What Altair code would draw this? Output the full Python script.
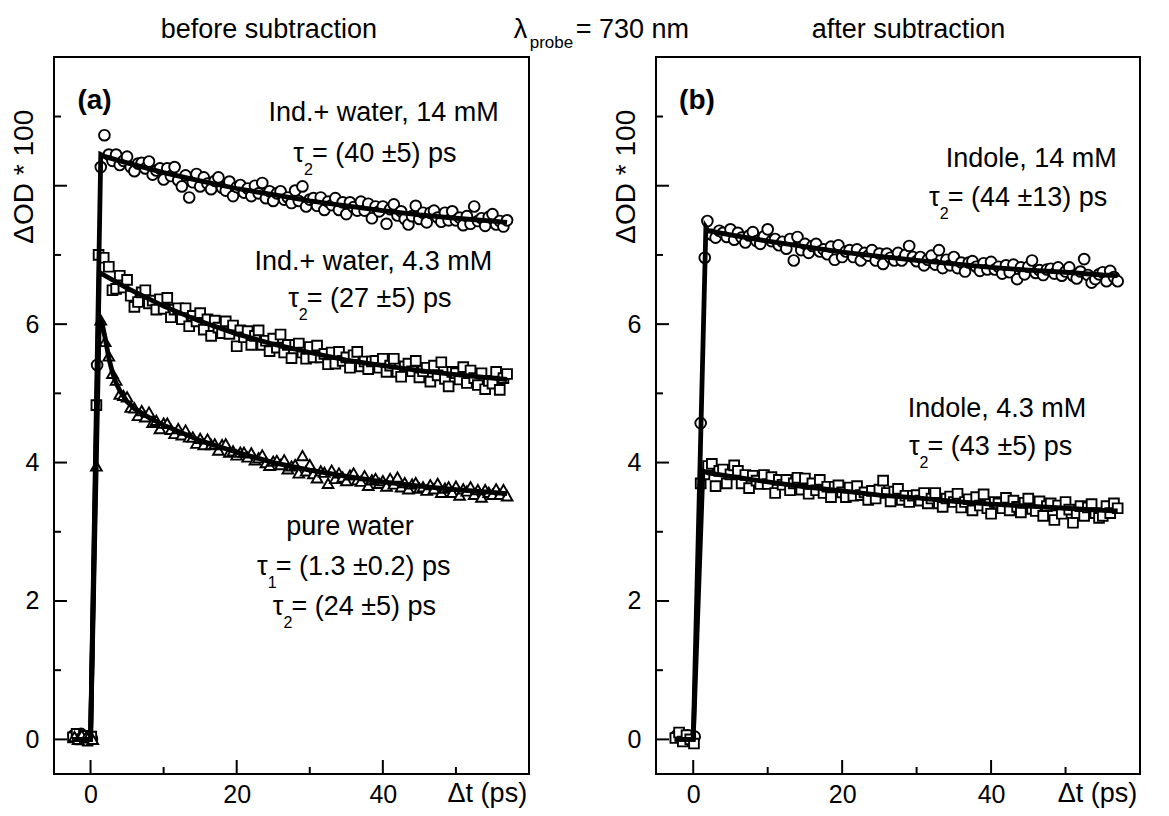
import altair as alt
import pandas as pd

# ---------------- data ----------------
T = [2.5, 3, 3.5, 4, 4.5, 5, 5.5, 6, 6.5, 7, 7.5, 8, 8.5, 9, 9.5, 10, 10.5, 11, 11.5, 12,
     12.5, 13, 13.5, 14, 14.5, 15, 15.5, 16, 16.5, 17, 17.5, 18, 18.5, 19, 19.5, 20, 20.5, 21,
     21.5, 22, 22.5, 23, 23.5, 24, 24.5, 25, 25.5, 26, 26.5, 27, 27.5, 28, 28.5, 29, 29.5, 30,
     30.5, 31, 31.5, 32, 32.5, 33, 33.5, 34, 34.5, 35, 35.5, 36, 36.5, 37, 37.5, 38, 38.5, 39,
     39.5, 40, 40.5, 41, 41.5, 42, 42.5, 43, 43.5, 44, 44.5, 45, 45.5, 46, 46.5, 47, 47.5, 48,
     48.5, 49, 49.5, 50, 50.5, 51, 51.5, 52, 52.5, 53, 53.5, 54, 54.5, 55, 55.5, 56, 56.5, 57]

# panel (a) circles: Ind.+ water, 14 mM
A1_early_t = [-2.3, -1.8, -1.3, -0.8, -0.3, 0.2, 0.9, 1.4, 1.9]
A1_early_v = [0.06, 0.02, 0.08, 0.0, 0.03, 0.01, 5.41, 8.27, 8.73]
A1 = [8.45, 8.36, 8.45, 8.30, 8.36, 8.42, 8.27, 8.21, 8.32, 8.33,
      8.25, 8.35, 8.16, 8.22, 8.25, 8.09, 8.25, 8.14, 8.27, 8.08,
      7.99, 8.15, 7.83, 8.05, 8.17, 7.99, 8.12, 8.03, 7.95, 8.07,
      8.12, 7.97, 7.93, 8.06, 7.85, 7.98, 8.01, 7.90, 7.96, 7.85,
      8.00, 7.89, 8.04, 7.82, 7.92, 7.78, 7.89, 7.92, 7.80, 7.83,
      7.75, 7.93, 7.78, 7.99, 7.70, 7.80, 7.82, 7.71, 7.83, 7.65,
      7.77, 7.72, 7.82, 7.65, 7.76, 7.59, 7.76, 7.69, 7.64, 7.77,
      7.64, 7.74, 7.53, 7.70, 7.63, 7.70, 7.45, 7.66, 7.73, 7.57,
      7.63, 7.52, 7.44, 7.56, 7.71, 7.52, 7.61, 7.47, 7.61, 7.64,
      7.54, 7.48, 7.61, 7.50, 7.63, 7.50, 7.54, 7.43, 7.56, 7.45,
      7.70, 7.49, 7.53, 7.42, 7.55, 7.59, 7.44, 7.49, 7.41, 7.50]

# panel (a) squares: Ind.+ water, 4.3 mM
A2_early_t = [-2.4, -1.9, -1.4, -0.9, -0.4, 0.1, 0.8, 1.1, 1.8]
A2_early_v = [0.03, 0.08, 0.0, 0.05, -0.02, 0.04, 4.83, 7.0, 6.96]
A2 = [6.83, 6.49, 6.51, 6.70, 6.53, 6.64, 6.41, 6.25, 6.32, 6.46,
      6.49, 6.30, 6.34, 6.21, 6.36, 6.22, 6.38, 6.10, 6.21, 6.23,
      6.07, 6.23, 5.97, 6.12, 6.04, 6.16, 5.92, 6.07, 5.83, 6.05,
      5.95, 5.87, 6.04, 5.86, 5.98, 5.68, 5.91, 5.81, 5.90, 5.70,
      5.83, 5.91, 5.70, 5.76, 5.61, 5.79, 5.66, 5.85, 5.59, 5.70,
      5.51, 5.70, 5.72, 5.59, 5.50, 5.67, 5.52, 5.69, 5.52, 5.57,
      5.42, 5.59, 5.43, 5.60, 5.47, 5.52, 5.37, 5.55, 5.60, 5.39,
      5.46, 5.35, 5.46, 5.47, 5.37, 5.50, 5.31, 5.40, 5.50, 5.31,
      5.24, 5.39, 5.43, 5.32, 5.47, 5.23, 5.32, 5.37, 5.17, 5.40,
      5.26, 5.45, 5.21, 5.10, 5.31, 5.29, 5.20, 5.38, 5.15, 5.33,
      5.22, 5.12, 5.29, 5.06, 5.18, 5.14, 5.31, 5.05, 5.22, 5.28]

# panel (a) triangles: pure water
A3_early_t = [-2.2, -1.7, -1.2, -0.7, -0.2, 0.3, 0.8, 1.4, 2.0]
A3_early_v = [0.04, 0.0, 0.06, 0.02, 0.05, 0.0, 3.95, 6.06, 5.75]
A3 = [5.54, 5.29, 5.19, 4.99, 4.97, 4.95, 4.80, 4.79, 4.68, 4.75,
      4.66, 4.73, 4.58, 4.61, 4.49, 4.57, 4.57, 4.48, 4.42, 4.49,
      4.40, 4.47, 4.37, 4.37, 4.28, 4.35, 4.26, 4.34, 4.26, 4.27,
      4.18, 4.26, 4.27, 4.15, 4.17, 4.11, 4.15, 4.15, 4.08, 4.14,
      4.04, 4.07, 4.11, 4.00, 3.96, 4.02, 4.03, 3.97, 4.04, 3.91,
      3.95, 3.97, 3.85, 4.10, 3.88, 3.97, 3.84, 3.78, 3.88, 3.86,
      3.70, 3.89, 3.77, 3.85, 3.79, 3.74, 3.82, 3.85, 3.75, 3.73,
      3.81, 3.67, 3.75, 3.77, 3.70, 3.74, 3.66, 3.77, 3.69, 3.79,
      3.65, 3.71, 3.62, 3.69, 3.71, 3.63, 3.65, 3.60, 3.68, 3.62,
      3.70, 3.57, 3.63, 3.65, 3.57, 3.66, 3.53, 3.62, 3.59, 3.65,
      3.54, 3.61, 3.50, 3.61, 3.57, 3.54, 3.62, 3.54, 3.61, 3.52]

# panel (b) circles: Indole, 14 mM
B1_early_t = [-2.3, -1.8, -1.3, -0.8, -0.3, 0.2, 1.0, 1.55, 1.9]
B1_early_v = [0.05, 0.08, 0.02, 0.06, 0.0, 0.04, 4.57, 6.96, 7.49]
B1 = [7.29, 7.25, 7.35, 7.32, 7.26, 7.37, 7.22, 7.32, 7.25, 7.18,
      7.28, 7.33, 7.20, 7.16, 7.27, 7.37, 7.20, 7.23, 7.14, 7.19,
      7.09, 7.23, 6.92, 7.26, 7.07, 7.16, 7.03, 7.13, 7.16, 7.05,
      7.08, 7.01, 7.12, 6.93, 7.14, 6.97, 7.05, 7.07, 6.97, 7.08,
      6.92, 7.03, 6.99, 7.07, 6.92, 7.02, 6.87, 7.02, 6.96, 6.92,
      7.03, 6.92, 7.00, 7.13, 6.97, 6.91, 6.97, 6.85, 6.93, 6.99,
      6.86, 7.07, 6.81, 6.93, 6.85, 6.97, 6.81, 6.89, 6.76, 6.89,
      6.91, 6.83, 6.77, 6.88, 6.79, 6.90, 6.79, 6.83, 6.73, 6.85,
      6.75, 6.86, 6.65, 6.82, 6.72, 6.83, 6.92, 6.74, 6.78, 6.71,
      6.79, 6.80, 6.73, 6.82, 6.70, 6.76, 6.82, 6.70, 6.66, 6.76,
      6.94, 6.71, 6.60, 6.65, 6.72, 6.75, 6.62, 6.77, 6.68, 6.62]

# panel (b) squares: Indole, 4.3 mM
B2_early_t = [-2.4, -1.9, -1.4, -0.9, -0.4, 0.1, 1.0, 1.5, 2.0]
B2_early_v = [0.02, 0.1, -0.03, 0.06, 0.0, -0.06, 3.7, 3.83, 3.95]
B2 = [3.98, 3.66, 3.88, 3.90, 3.70, 3.83, 3.96, 3.88, 3.70, 3.82,
      3.63, 3.81, 3.74, 3.69, 3.82, 3.69, 3.79, 3.56, 3.75, 3.68,
      3.75, 3.60, 3.70, 3.78, 3.61, 3.77, 3.55, 3.70, 3.60, 3.75,
      3.56, 3.65, 3.50, 3.65, 3.67, 3.57, 3.50, 3.64, 3.52, 3.66,
      3.53, 3.57, 3.46, 3.59, 3.48, 3.61, 3.74, 3.56, 3.44, 3.58,
      3.62, 3.46, 3.52, 3.43, 3.52, 3.53, 3.45, 3.56, 3.41, 3.48,
      3.56, 3.41, 3.36, 3.48, 3.51, 3.43, 3.55, 3.35, 3.43, 3.47,
      3.31, 3.50, 3.38, 3.54, 3.34, 3.26, 3.43, 3.41, 3.34, 3.49,
      3.31, 3.45, 3.36, 3.28, 3.42, 3.48, 3.33, 3.30, 3.44, 3.23,
      3.37, 3.41, 3.17, 3.38, 3.26, 3.43, 3.32, 3.13, 3.27, 3.37,
      3.23, 3.35, 3.40, 3.27, 3.20, 3.23, 3.37, 3.27, 3.41, 3.34]

# fitted curves
A1_fit_t = [-2.5, 0, 1.4, 2, 5, 10, 15, 20, 25, 30, 35, 40, 45, 50, 55, 57]
A1_fit_v = [0, 0, 8.45, 8.42, 8.33, 8.19, 8.07, 7.96, 7.87, 7.78, 7.71, 7.64, 7.58, 7.53, 7.49, 7.47]
A2_fit_t = [-2.5, 0, 1.2, 2, 5, 10, 15, 20, 25, 30, 35, 40, 45, 50, 55, 57]
A2_fit_v = [0, 0, 6.75, 6.70, 6.52, 6.26, 6.04, 5.86, 5.71, 5.59, 5.48, 5.40, 5.33, 5.27, 5.22, 5.20]
A3_fit_t = [-2.5, 0, 1.2, 1.6, 2, 2.5, 3, 3.5, 4, 5, 6, 8, 10, 15, 20, 25, 30, 35, 40, 45, 50, 55, 57]
A3_fit_v = [0, 0, 6.1, 6.0, 5.80, 5.51, 5.30, 5.15, 5.04, 4.88, 4.78, 4.65, 4.54, 4.32, 4.15, 4.00,
            3.89, 3.80, 3.72, 3.66, 3.61, 3.57, 3.55]
B1_fit_t = [-2.5, 0, 1.7, 2, 5, 10, 15, 20, 25, 30, 35, 40, 45, 50, 55, 57]
B1_fit_v = [0, 0, 7.40, 7.35, 7.29, 7.20, 7.12, 7.04, 6.98, 6.92, 6.87, 6.82, 6.78, 6.75, 6.71, 6.70]
B2_fit_t = [-2.5, 0, 1.3, 2, 5, 10, 15, 20, 25, 30, 35, 40, 45, 50, 55, 57]
B2_fit_v = [0, 0, 3.88, 3.85, 3.80, 3.72, 3.65, 3.59, 3.53, 3.49, 3.44, 3.40, 3.37, 3.34, 3.31, 3.30]

# axis tick values / labels
X_LABELS = [0, 20, 40]
Y_LABELS = [0, 2, 4, 6]
X_MAJOR = [0, 20, 40]
X_MINOR = [10, 30, 50]
Y_MAJOR = [0, 2, 4, 6, 8]
Y_MINOR = [1, 3, 5, 7, 9]

# ---------------- layout / style ----------------
FONT = "Liberation Sans"
XDOM = [-5, 60]
YDOM = [-0.5, 9.86]
H = 717
WA, WB = 475, 484

# annotations (data coordinates)
A_CENTER = [("Ind.+ water, 14 mM", 40.1, 8.93),
            ("Ind.+ water, 4.3 mM", 38.7, 6.78),
            ("pure water", 35.5, 2.95)]
A_TAU = [("τ", "2", "= (40 ±5) ps", 29.2, 8.35),
         ("τ", "2", "= (27 ±5) ps", 28.5, 6.25),
         ("τ", "1", "= (1.3 ±0.2) ps", 24.25, 2.37),
         ("τ", "2", "= (24 ±5) ps", 26.4, 1.80)]
B_CENTER = [("Indole, 14 mM", 45.4, 8.27),
            ("Indole, 4.3 mM", 40.8, 4.66)]
B_TAU = [("τ", "2", "= (44 ±13) ps", 33.1, 7.70),
         ("τ", "2", "= (43 ±5) ps", 30.4, 4.11)]


def panel(width, points, fits, centers, taus, label, title_rows, extra_left, extra_sub):
    xs = alt.Scale(domain=XDOM, nice=False, zero=False)
    ys = alt.Scale(domain=YDOM, nice=False, zero=False)
    xa = alt.Axis(values=X_LABELS, ticks=False, tickSize=0, domain=False, grid=False,
                  labelFontSize=25, labelFont=FONT, labelColor="black", labelPadding=8,
                  title=None, labelFlush=False)
    ya = alt.Axis(values=Y_LABELS, ticks=False, tickSize=0, domain=False, grid=False,
                  labelFontSize=25, labelFont=FONT, labelColor="black", labelPadding=15,
                  title=None)
    X = alt.X("t:Q", scale=xs, axis=xa)
    Y = alt.Y("v:Q", scale=ys, axis=ya)

    layers = []
    for (et, ev, vals), shape, size in points:
        df = pd.DataFrame({"t": et + T, "v": ev + vals})
        layers.append(alt.Chart(df).mark_point(shape=shape, size=size, filled=True, fill="white",
                                                stroke="black", strokeWidth=1.9, opacity=1)
                      .encode(x=X, y=Y))
    for ft, fv in fits:
        df = pd.DataFrame({"t": ft, "v": fv})
        layers.append(alt.Chart(df).mark_line(color="black", strokeWidth=4.8).encode(x=X, y=Y))

    # inward ticks
    def xticks(vals, length):
        return alt.Chart(pd.DataFrame({"t": vals})).mark_rule(color="black", strokeWidth=2).encode(
            x=X, y=alt.value(H), y2=alt.value(H - length))

    def yticks(vals, length):
        return alt.Chart(pd.DataFrame({"v": vals})).mark_rule(color="black", strokeWidth=2).encode(
            y=Y, x=alt.value(0), x2=alt.value(length))

    layers += [xticks(X_MAJOR, 14), xticks(X_MINOR, 7), yticks(Y_MAJOR, 13), yticks(Y_MINOR, 7)]

    def text(rows, **mk):
        df = pd.DataFrame(rows, columns=["label", "t", "v"])
        props = dict(font=FONT, color="black", baseline="alphabetic", fontSize=27)
        props.update(mk)
        return alt.Chart(df).mark_text(**props).encode(x=X, y=Y, text="label:N")

    layers.append(text(centers, align="center"))
    layers.append(text([(a, t, v) for a, s, r, t, v in taus], align="right"))
    layers.append(text([(s, t, v) for a, s, r, t, v in taus], align="left", fontSize=16, dy=13))
    layers.append(text([(r, t, v) for a, s, r, t, v in taus], align="left", dx=8))
    layers.append(text([label], align="left", fontWeight="bold", fontSize=28))
    layers.append(text(title_rows, align="center"))
    layers.append(text([("Δt (ps)", 54.3, -0.90)], align="center"))
    layers.append(text([("ΔOD * 100", -7.85, 8.13)], align="center", angle=270, fontSize=28))
    if extra_left:
        layers.append(text(extra_left, align="left"))
    if extra_sub:
        layers.append(text(extra_sub, align="left", fontSize=17, dy=10))

    return alt.layer(*layers).properties(width=width, height=H)


pa = panel(WA,
           [((A1_early_t, A1_early_v, A1), "circle", 115),
            ((A2_early_t, A2_early_v, A2), "square", 95),
            ((A3_early_t, A3_early_v, A3), "triangle-up", 115)],
           [(A1_fit_t, A1_fit_v), (A2_fit_t, A2_fit_v), (A3_fit_t, A3_fit_v)],
           A_CENTER, A_TAU, ("(a)", -1.8, 9.11),
           [("before subtraction", 24.4, 10.14)],
           [("λ", 57.9, 10.14), ("= 730 nm", 66.4, 10.14)],
           [("probe", 60.1, 10.14)])

pb = panel(WB,
           [((B1_early_t, B1_early_v, B1), "circle", 115),
            ((B2_early_t, B2_early_v, B2), "square", 95)],
           [(B1_fit_t, B1_fit_v), (B2_fit_t, B2_fit_v)],
           B_CENTER, B_TAU, ("(b)", -1.9, 9.11),
           [("after subtraction", 28.9, 10.14)],
           None, None)

chart = alt.HConcatChart(hconcat=[pa, pb], spacing=127, bounds="flush").configure(
    font=FONT, background="white",
    padding={"left": 2, "top": 6, "right": 5, "bottom": 5}
).configure_view(stroke="black", strokeWidth=2)

chart.save("out.html", embed_options={"renderer": "svg", "actions": False})
